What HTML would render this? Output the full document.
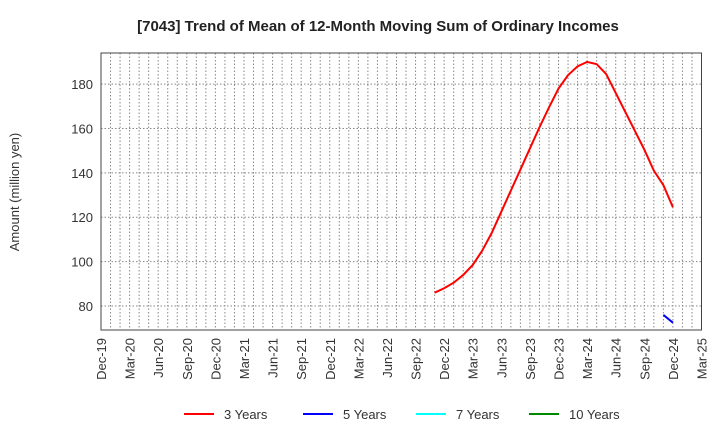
<!DOCTYPE html>
<html><head><meta charset="utf-8"><style>
body{margin:0;background:#fff;font-family:"Liberation Sans",Arial,sans-serif}
</style></head><body>
<svg id="c" width="720" height="440" xmlns="http://www.w3.org/2000/svg">
<text x="378" y="31" text-anchor="middle" font-size="15" font-weight="bold" fill="#222">[7043]  Trend of Mean of 12-Month Moving Sum of Ordinary Incomes</text>
<text transform="translate(19,192) rotate(-90)" text-anchor="middle" font-size="13" fill="#333">Amount (million yen)</text>
<g id="grid"></g><g id="ticks"></g><g id="series"></g>
<rect x="101" y="53" width="600.5" height="277" fill="none" stroke="#444" stroke-width="1"/>
<g font-size="13" fill="#333">
<line x1="184" y1="414" x2="214" y2="414" stroke="#f00" stroke-width="2"/><text x="224" y="419">3 Years</text>
<line x1="303" y1="414" x2="333" y2="414" stroke="#00f" stroke-width="2"/><text x="343" y="419">5 Years</text>
<line x1="416" y1="414" x2="446" y2="414" stroke="#0ff" stroke-width="2"/><text x="456" y="419">7 Years</text>
<line x1="529" y1="414" x2="559" y2="414" stroke="#080" stroke-width="2"/><text x="569" y="419">10 Years</text>
</g>
</svg>
<script>
const xLabels=["Dec-19","Mar-20","Jun-20","Sep-20","Dec-20","Mar-21","Jun-21","Sep-21","Dec-21","Mar-22","Jun-22","Sep-22","Dec-22","Mar-23","Jun-23","Sep-23","Dec-23","Mar-24","Jun-24","Sep-24","Dec-24","Mar-25"];
const yTicks=[80,100,120,140,160,180];
const s3Start=35;
const s3=[86,88,90.5,94,98.5,105,113,122.5,132,141.5,151,160.5,169.5,178,184,188,190,189,184.5,176,167.5,159,150.5,141,134.5,124.5];
const s5Start=59;
const s5=[76,72.5];
const NS="http://www.w3.org/2000/svg";
const X=m=>101+m*(600.5/63);
const Y=v=>330-(v-69.2)*(277/124.8);
function el(t,a,p){const e=document.createElementNS(NS,t);for(const k in a)e.setAttribute(k,a[k]);document.getElementById(p).appendChild(e);return e;}
for(let m=1;m<63;m++){const l=el('line',{x1:X(m),x2:X(m),y1:53,y2:330,stroke:'#888','stroke-dasharray':'1.5,2','stroke-width':1},'grid');

}
yTicks.forEach(v=>{const l=el('line',{x1:101,x2:701,y1:Y(v),y2:Y(v),stroke:'#888','stroke-dasharray':'1.5,2'},'grid');


const t=el('text',{x:93,y:Y(v)+5,'text-anchor':'end','font-size':13,fill:'#333'},'ticks');t.textContent=v;

});
xLabels.forEach((s,i)=>{const x=X(i*3);const t=el('text',{transform:`translate(${x+5},338) rotate(-90)`,'text-anchor':'end','font-size':13,fill:'#333'},'ticks');t.textContent=s;

});
function line(d,st,c,n){const p=el('polyline',{points:d.map((v,i)=>X(st+i)+','+Y(v)).join(' '),fill:'none',stroke:c,'stroke-width':2},'series');

}
line(s3,s3Start,'#f00','series-3-years');
line(s5,s5Start,'#00f','series-5-years');
</script>
</body></html>
